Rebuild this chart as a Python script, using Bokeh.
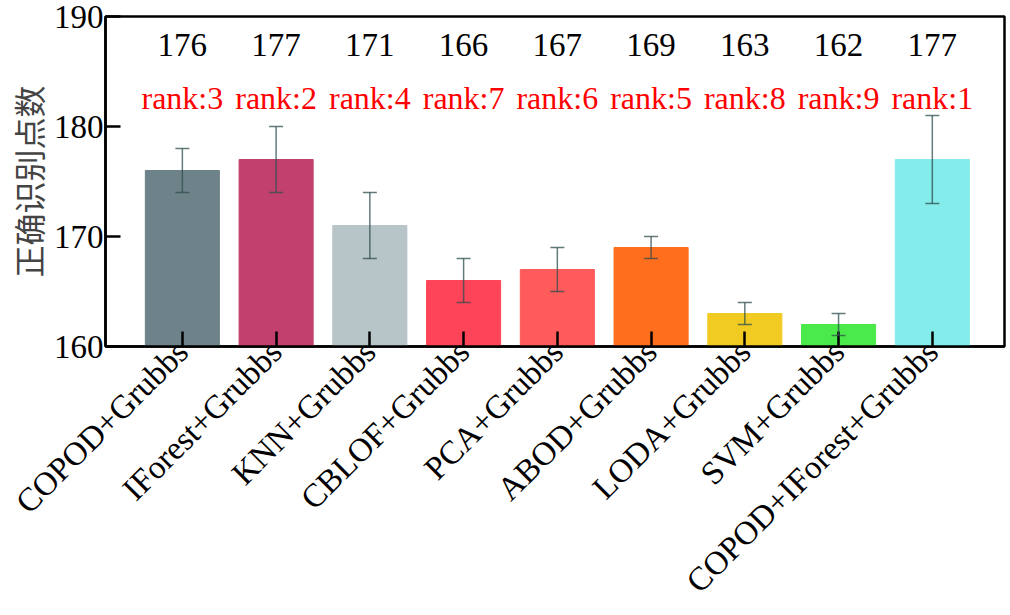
import numpy as np
from bokeh.plotting import figure
from bokeh.models import ColumnDataSource, Whisker, TeeHead, FixedTicker, Range1d, Label
from bokeh.embed import file_html
from bokeh.resources import INLINE

methods = ["COPOD+Grubbs", "IForest+Grubbs", "KNN+Grubbs", "CBLOF+Grubbs", "PCA+Grubbs",
           "ABOD+Grubbs", "LODA+Grubbs", "SVM+Grubbs", "COPOD+IForest+Grubbs"]
scores = [176, 177, 171, 166, 167, 169, 163, 162, 177]
err_low = [174, 174, 168, 164, 165, 168, 162, 161, 173]
err_high = [178, 180, 174, 168, 169, 170, 164, 163, 181]
ranks = ["rank:3", "rank:2", "rank:4", "rank:7", "rank:6", "rank:5", "rank:8", "rank:9", "rank:1"]
colors = ["#6e8389", "#c2406d", "#b7c4c8", "#fe4458", "#fe5b5a", "#fe6e1c", "#f2cb22", "#4aea4a", "#84ecea"]

SERIF = "Liberation Serif"
VAL_Y = 187.4
RANK_Y = 182.6

xs = list(range(len(methods)))
src = ColumnDataSource(dict(x=xs, top=scores, lo=err_low, hi=err_high, color=colors))

p = figure(width=1010, height=615, output_backend="svg", toolbar_location=None,
           x_range=Range1d(-0.82, 8.77), y_range=Range1d(160, 190),
           min_border_left=105, min_border_right=6, min_border_top=16, min_border_bottom=269)
p.vbar(x="x", top="top", bottom=160, width=0.79, color="color", source=src)

head_kw = dict(size=14, line_color="#2f4f4f", line_alpha=0.75, line_width=1.5)
w = Whisker(base="x", upper="hi", lower="lo", source=src, line_color="#2f4f4f", line_alpha=0.75,
            line_width=1.5, upper_head=TeeHead(**head_kw), lower_head=TeeHead(**head_kw),
            level="overlay")
p.add_layout(w)

for xi, s, r in zip(xs, scores, ranks):
    p.add_layout(Label(x=xi, y=VAL_Y, text=str(s), text_align="center", text_baseline="middle",
                       text_font=SERIF, text_font_size="33px", text_color="black"))
    p.add_layout(Label(x=xi, y=RANK_Y, text=r, text_align="center", text_baseline="middle",
                       text_font=SERIF, text_font_size="32px", text_color="#ff0000"))

p.grid.visible = False
p.outline_line_color = "black"
p.outline_line_width = 2.5
p.outline_line_alpha = 1

p.xaxis.ticker = FixedTicker(ticks=xs)
p.xaxis.major_label_overrides = {i: m for i, m in enumerate(methods)}
p.xaxis.major_label_orientation = np.pi / 4
p.xaxis.major_tick_in = 15
p.xaxis.major_tick_out = 0
p.xaxis.minor_tick_line_color = None
p.xaxis.major_label_standoff = 0

p.yaxis.ticker = FixedTicker(ticks=[160, 170, 180, 190])
p.yaxis.major_tick_in = 15
p.yaxis.major_tick_out = 0
p.yaxis.minor_tick_line_color = None
p.yaxis.major_label_standoff = 2
p.yaxis.axis_label = "正确识别点数"
p.yaxis.axis_label_text_font = "Noto Sans CJK SC"
p.yaxis.axis_label_text_font_size = "32px"
p.yaxis.axis_label_text_font_style = "normal"
p.yaxis.axis_label_standoff = 0

for ax in (p.xaxis, p.yaxis):
    ax.axis_line_width = 2.5
    ax.axis_line_color = "black"
    ax.major_tick_line_width = 2.5
    ax.major_tick_line_color = "black"
    ax.major_label_text_font = SERIF
    ax.major_label_text_font_size = "33px"
    ax.major_label_text_color = "black"

open("out.html", "w").write(file_html(p, INLINE))
